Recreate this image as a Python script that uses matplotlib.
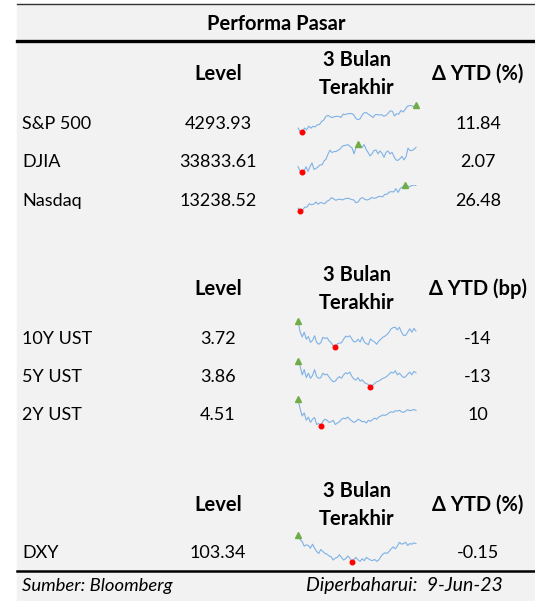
import matplotlib.pyplot as plt
import numpy as np

# table data
names1 = ["S&P 500", "DJIA", "Nasdaq"]
level1 = ["4293.93", "33833.61", "13238.52"]
ytd1 = ["11.84", "2.07", "26.48"]

names2 = ["10Y UST", "5Y UST", "2Y UST"]
level2 = ["3.72", "3.86", "4.51"]
ytd2 = ["-14", "-13", "10"]

names3 = ["DXY"]
level3 = ["103.34"]
ytd3 = ["-0.15"]

# sparkline series, last 3 months
spx = [3918, 3861, 3855, 3919, 3891, 3951, 3917, 3948, 3937, 3971, 3977, 4027, 4050, 4109,
       4124, 4100, 4090, 4105, 4109, 4108, 4091, 4146, 4137, 4151, 4154, 4155, 4133, 4071,
       4055, 4071, 4136, 4169, 4167, 4138, 4119, 4090, 4137, 4138, 4130, 4137, 4110, 4124,
       4158, 4198, 4192, 4115, 4151, 4145, 4205, 4179, 4221, 4273, 4283, 4282, 4267, 4293]
djia = [32254, 31910, 31819, 31874, 32247, 31862, 32245, 32560, 32030, 32105, 32238, 32395,
        32394, 32717, 32859, 33274, 33601, 33402, 33482, 33485, 33586, 33684, 33887, 33976,
        33987, 34053, 33897, 33786, 33301, 33826, 34098, 33875, 33809, 34051, 33684, 33414,
        33128, 33309, 33562, 33618, 33300, 33531, 33348, 33012, 33420, 33535, 33286, 33426,
        33070, 32800, 32764, 32908, 33093, 32799, 33061, 33762, 33563, 33573, 33665, 33833]
nasdaq = [11338, 11108, 11188, 11428, 11434, 11717, 11630, 11675, 11860, 11670, 11823, 11768,
          11716, 11926, 12013, 12221, 12126, 11997, 12087, 12084, 12031, 12123, 12166, 12157,
          12060, 12037, 11799, 11854, 12142, 12226, 12082, 12025, 12080, 12235, 12181, 12179,
          12306, 12328, 12284, 12500, 12500, 12688, 12720, 12698, 12975, 12657, 13004, 13100,
          13277, 13236, 13110, 13229, 13276, 13238]
ust10 = [3.98, 3.70, 3.57, 3.69, 3.51, 3.58, 3.43, 3.48, 3.60, 3.43, 3.38, 3.42, 3.56, 3.53,
         3.55, 3.47, 3.42, 3.34, 3.31, 3.39, 3.41, 3.42, 3.51, 3.59, 3.57, 3.60, 3.52, 3.44,
         3.45, 3.51, 3.44, 3.57, 3.44, 3.40, 3.37, 3.52, 3.47, 3.44, 3.38, 3.46, 3.51, 3.56,
         3.59, 3.63, 3.69, 3.78, 3.81, 3.82, 3.75, 3.82, 3.69, 3.61, 3.61, 3.69, 3.78, 3.69,
         3.79, 3.72]
ust5 = [4.20, 4.05, 3.80, 3.95, 3.72, 3.85, 3.70, 3.78, 3.95, 3.75, 3.70, 3.72, 3.85, 3.80,
        3.82, 3.74, 3.66, 3.60, 3.62, 3.70, 3.75, 3.70, 3.80, 3.86, 3.83, 3.88, 3.76, 3.68,
        3.65, 3.72, 3.62, 3.66, 3.58, 3.55, 3.52, 3.45, 3.50, 3.55, 3.60, 3.62, 3.66, 3.70,
        3.72, 3.76, 3.82, 3.88, 3.85, 3.92, 3.80, 3.85, 3.78, 3.72, 3.75, 3.82, 3.88, 3.80,
        3.90, 3.86]
ust2 = [5.05, 4.60, 4.25, 4.40, 4.05, 4.20, 3.95, 4.10, 4.18, 3.85, 3.90, 3.78, 4.00, 4.10,
        4.05, 3.95, 3.98, 4.05, 3.85, 3.92, 3.98, 4.10, 4.15, 4.12, 4.20, 4.10, 4.02, 3.95,
        4.00, 4.10, 4.05, 3.98, 4.00, 3.92, 4.05, 4.00, 4.08, 4.15, 4.10, 4.20, 4.25, 4.30,
        4.28, 4.32, 4.40, 4.45, 4.42, 4.50, 4.48, 4.52, 4.45, 4.42, 4.48, 4.55, 4.50, 4.52,
        4.56, 4.51]
dxy = [105.3, 104.6, 104.3, 103.6, 103.8, 103.7, 103.3, 103.9, 103.3, 102.8, 102.5, 103.1,
       102.8, 102.5, 102.4, 102.1, 102.0, 101.5, 101.8, 101.9, 102.3, 101.9, 101.5, 101.7,
       102.1, 101.8, 101.2, 101.6, 101.9, 101.5, 101.3, 101.7, 101.4, 101.9, 101.7, 101.5,
       101.4, 101.6, 101.3, 101.5, 102.0, 102.4, 102.6, 102.5, 102.8, 103.2, 103.5, 103.2,
       103.6, 104.2, 103.9, 104.0, 104.2, 103.7, 104.0, 103.9, 104.1, 104.0]

W, H = 535, 601
fig = plt.figure(figsize=(W / 100, H / 100), dpi=100)
fig.patch.set_facecolor("white")
ax = fig.add_axes([0, 0, 1, 1])
ax.set_xlim(0, W)
ax.set_ylim(H, 0)
ax.axis("off")

plt.rcParams["font.family"] = ["Lato", "DejaVu Sans"]
fs = 13      # regular cells
fsb = 14.5   # bold headers
bg = "#f2f2f2"
left = 17
dy = 2       # small nudge so text sits like the reference

ax.add_patch(plt.Rectangle((left, 4), W - left, H - 4, color=bg, zorder=0))
ax.plot([left, W], [4, 4], color="#333333", lw=1.0)
ax.plot([left, W], [41, 41], color="black", lw=2.4)
ax.plot([left, W], [571, 571], color="black", lw=1.8)

ax.text((left + W) / 2, 22 + dy, "Performa Pasar", ha="center", va="center", fontsize=fsb, fontweight="bold")

col_name, col_level, col_spark, col_ytd = 22, 218, 357, 478


def header(y, ytd_label):
    y = y + dy
    ax.text(col_level, y, "Level", ha="center", va="center", fontsize=fsb, fontweight="bold")
    ax.text(col_spark, y - 14, "3 Bulan", ha="center", va="center", fontsize=fsb, fontweight="bold")
    ax.text(col_spark, y + 14, "Terakhir", ha="center", va="center", fontsize=fsb, fontweight="bold")
    ax.text(col_ytd, y, ytd_label, ha="center", va="center", fontsize=fsb, fontweight="bold")


def spark(series, top, bottom):
    x0, x1 = 297, 417
    sax = fig.add_axes([x0 / W, 1 - bottom / H, (x1 - x0) / W, (bottom - top) / H])
    sax.axis("off")
    s = np.array(series, dtype=float)
    t = np.arange(len(s))
    sax.plot(t, s, color="#7fb2e5", lw=0.8)
    imax, imin = int(np.argmax(s)), int(np.argmin(s))
    sax.plot(t[imax], s[imax], marker="^", color="#70ad47", ms=3.8, clip_on=False)
    sax.plot(t[imin], s[imin], marker="o", color="#ff0000", ms=3.3, clip_on=False)
    sax.set_xlim(-0.5, len(s) - 0.5)
    sax.set_ylim(s.min(), s.max())
    sax.patch.set_alpha(0)


def rows(names, levels, ytds, ys, series, spans):
    for n, lv, yd, y, s, (tp, bt) in zip(names, levels, ytds, ys, series, spans):
        ax.text(col_name, y + dy, n, ha="left", va="center", fontsize=fs)
        ax.text(col_level, y + dy, lv, ha="center", va="center", fontsize=fs)
        ax.text(col_ytd, y + dy, yd, ha="center", va="center", fontsize=fs)
        spark(s, tp, bt)


header(72, "Δ YTD (%)")
rows(names1, level1, ytd1, [122, 160, 199], [spx, djia, nasdaq],
     [(105, 132), (144, 172), (185, 211)])

header(287, "Δ YTD (bp)")
rows(names2, level2, ytd2, [337, 375, 413], [ust10, ust5, ust2],
     [(321, 347), (361, 387), (399, 426)])

header(503, "Δ YTD (%)")
rows(names3, level3, ytd3, [551], [dxy], [(535, 562)])

ax.text(col_name, 586, "Sumber: Bloomberg", ha="left", va="center", fontsize=13.3, style="italic")
ax.text(306, 586, "Diperbaharui:  9-Jun-23", ha="left", va="center", fontsize=14, style="italic")

fig.savefig("out.png", dpi=100, facecolor=fig.get_facecolor())
